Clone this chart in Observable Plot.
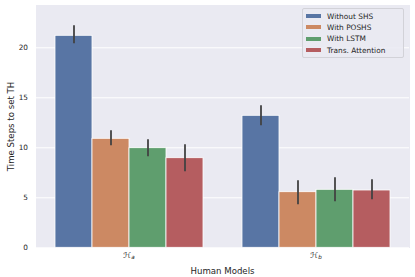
<!DOCTYPE html>
<html>
<head>
<meta charset="utf-8">
<script src="https://cdn.jsdelivr.net/npm/d3@7"></script>
<script src="https://cdn.jsdelivr.net/npm/@observablehq/plot@0.6"></script>
<style>
  html, body { margin: 0; padding: 0; background: #fff; }
  #wrap { position: relative; width: 415px; height: 277px; font-family: "DejaVu Sans", sans-serif; }
  .legend { position: absolute; left: 302px; top: 8px; width: 102px; height: 50px;
    background: rgba(234,234,242,0.85); border: 1px solid #d2d2d8; border-radius: 2px; box-sizing: border-box; }
  .legend .item { position: absolute; left: 3px; height: 11px; display: flex; align-items: center;
    font-size: 7.4px; color: #262626; white-space: nowrap; }
  .legend .sw { width: 15px; height: 4px; margin-right: 6px; }
</style>
</head>
<body>
<div id="wrap"></div>
<script>
const groups = ["a", "b"];
const series = ["Without SHS", "With POSHS", "With LSTM", "Trans. Attention"];
const colors = ["#5875a4", "#cc8963", "#5f9e6e", "#b55d60"];
const meanA = [21.2, 10.9, 9.96, 8.96];
const lowA  = [20.4, 10.2, 9.1, 7.6];
const highA = [22.2, 11.7, 10.8, 10.3];
const meanB = [13.2, 5.56, 5.8, 5.73];
const lowB  = [12.2, 4.3, 4.6, 4.8];
const highB = [14.2, 6.7, 7.0, 6.8];
const yTicks = [0, 5, 10, 15, 20];

const table = [];
series.forEach((s, i) => {
  table.push({group: "a", series: s, mean: meanA[i], lo: lowA[i], hi: highA[i]});
  table.push({group: "b", series: s, mean: meanB[i], lo: lowB[i], hi: highB[i]});
});

const plot = Plot.plot({
  width: 415,
  height: 277,
  marginLeft: 35,
  marginRight: 5.4,
  marginTop: 4.7,
  marginBottom: 29.7,
  style: {fontFamily: "DejaVu Sans", fontSize: "7.3px", color: "#262626", background: "transparent"},
  fx: {domain: groups, padding: 0, label: "Human Models", labelAnchor: "center", labelArrow: "none",
       tickSize: 0, tickPadding: 5, labelOffset: 26, tickFormat: d => "ℋ" + d},
  x: {domain: series, paddingInner: 0, paddingOuter: 0.5, axis: null},
  y: {domain: [0, 24.26], ticks: yTicks, label: "Time Steps to set TH", labelAnchor: "center",
      labelArrow: "none", tickSize: 0, tickPadding: 7.5, labelOffset: 28},
  color: {domain: series, range: colors},
  marks: [
    Plot.frame({fill: "#eaeaf2", stroke: null, shapeRendering: "crispEdges"}),
    Plot.gridY(yTicks, {stroke: "#ffffff", strokeOpacity: 1, strokeWidth: 1}),
    Plot.barY(table, {fx: "group", x: "series", y: "mean", fill: "series", stroke: "#ffffff", strokeWidth: 0.8}),
    Plot.ruleX(table, {fx: "group", x: "series", y1: "lo", y2: "hi", stroke: "#424242", strokeWidth: 1.8})
  ]
});

// render subscript in fx tick labels (ℋ_a, ℋ_b)
d3.select(plot).selectAll('[aria-label="fx-axis tick label"] text').each(function(d) {
  const t = d3.select(this);
  const g = typeof d === "string" ? d : t.text().replace("ℋ", "");
  t.text("");
  t.append("tspan").attr("font-style", "italic").attr("font-size", "8px").text("ℋ");
  t.append("tspan").attr("font-style", "italic").attr("font-size", "5.6px").attr("dy", "0.25em").text(g);
});
d3.select(plot).selectAll('[aria-label="y-axis label"] text, [aria-label="fx-axis label"] text')
  .attr("font-size", "8.6px");

const wrap = document.getElementById("wrap");
wrap.appendChild(plot);

const legend = document.createElement("div");
legend.className = "legend";
series.forEach((s, i) => {
  const it = document.createElement("div");
  it.className = "item";
  it.style.top = (1.5 + i * 11.4) + "px";
  const sw = document.createElement("span");
  sw.className = "sw";
  sw.style.background = colors[i];
  const tx = document.createElement("span");
  tx.textContent = s;
  it.appendChild(sw);
  it.appendChild(tx);
  legend.appendChild(it);
});
wrap.appendChild(legend);
</script>
</body>
</html>
